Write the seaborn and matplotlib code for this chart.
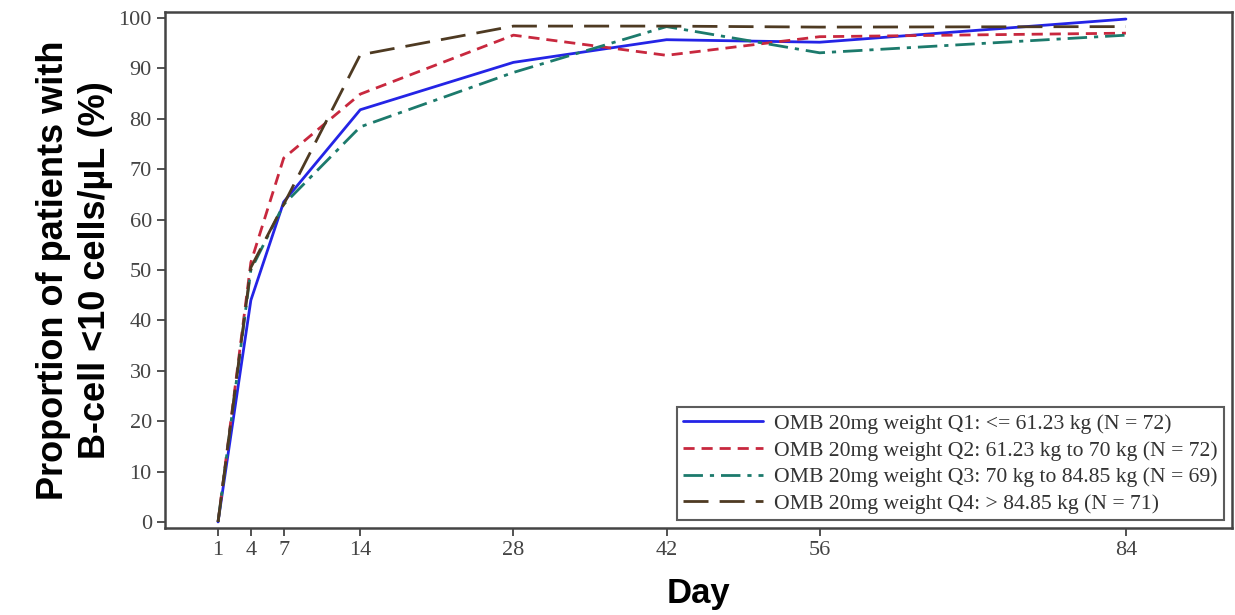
import pandas as pd
import matplotlib.pyplot as plt
import seaborn as sns

# Data
days = [1, 4, 7, 14, 28, 42, 56, 84]
q1 = [0, 44.0, 63.5, 81.8, 91.2, 95.7, 95.2, 99.8]
q2 = [0, 51.5, 72.2, 84.9, 96.6, 92.6, 96.3, 97.0]
q3 = [0, 50.0, 63.0, 78.4, 89.2, 98.3, 93.1, 96.6]
q4 = [0, 50.5, 63.0, 92.7, 98.4, 98.4, 98.2, 98.3]
groups = [
    "OMB 20mg weight Q1: <= 61.23 kg (N = 72)",
    "OMB 20mg weight Q2: 61.23 kg to 70 kg (N = 72)",
    "OMB 20mg weight Q3: 70 kg to 84.85 kg (N = 69)",
    "OMB 20mg weight Q4: > 84.85 kg (N = 71)",
]
series = [q1, q2, q3, q4]
x_ticks = [1, 4, 7, 14, 28, 42, 56, 84]
y_ticks = list(range(0, 101, 10))

colors = ["#2424e6", "#c8283e", "#1c7a6c", "#4e3a22"]
dash_styles = ["", (4, 2.5), (7, 2.5, 1.5, 2.5), (9, 4)]

rows = []
for g, vals in zip(groups, series):
    for d, v in zip(days, vals):
        rows.append({"Day": d, "Pct": v, "Group": g})
df = pd.DataFrame(rows)

sns.set_theme(style="white")
fig = plt.figure(figsize=(12.35, 6.15), dpi=100)
ax = fig.add_axes([0.1336, 0.1415, 0.864, 0.839])

sns.lineplot(data=df, x="Day", y="Pct", hue="Group", style="Group",
             palette=dict(zip(groups, colors)),
             dashes=dict(zip(groups, dash_styles)),
             linewidth=2.0, ax=ax)

ax.set_xlim(-3.85, 93.7)
ax.set_ylim(-1.2, 101.2)
ax.set_xticks(x_ticks)
ax.set_yticks(y_ticks)
for spine in ax.spines.values():
    spine.set_color("#444444")
    spine.set_linewidth(1.8)
ax.tick_params(axis="both", direction="out", length=6, width=1.3, color="#444444",
               labelsize=16, labelcolor="#444444", left=True, bottom=True)
for lab in ax.get_xticklabels() + ax.get_yticklabels():
    lab.set_family("Liberation Serif")

ax.set_xlabel("Day", fontsize=25, fontweight="bold", family="Liberation Sans",
              color="black", labelpad=12)
ax.set_ylabel("Proportion of patients with\nB-cell <10 cells/µL (%)", fontsize=26,
              fontweight="bold", family="Liberation Sans", color="black",
              labelpad=4, linespacing=1.25)

leg = ax.legend(loc="lower right", frameon=True, fancybox=False,
                prop={"family": "Liberation Serif", "size": 15.6},
                handlelength=3.7, borderaxespad=0.35, labelspacing=0.3,
                borderpad=0.3, handletextpad=0.5)
leg.get_frame().set_edgecolor("#333333")
leg.get_frame().set_linewidth(1.5)
for t in leg.get_texts():
    t.set_color("#333333")

fig.savefig("out.png", dpi=100)
